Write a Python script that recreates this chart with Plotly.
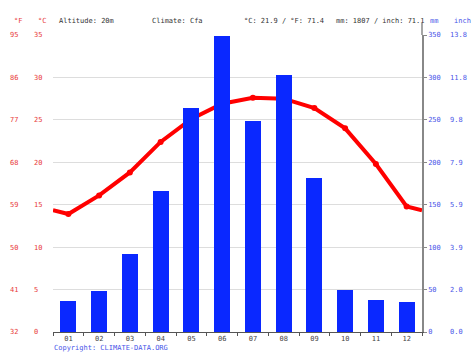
import plotly.graph_objects as go

months = ["01", "02", "03", "04", "05", "06", "07", "08", "09", "10", "11", "12"]
temp_c = [13.9, 16.1, 18.8, 22.4, 25.1, 26.9, 27.6, 27.5, 26.4, 24.0, 19.8, 14.8]
precip_mm = [37, 48, 92, 166, 264, 349, 249, 303, 182, 49, 38, 35]
c_ticks = [0, 5, 10, 15, 20, 25, 30, 35]
f_ticks = [32, 41, 50, 59, 68, 77, 86, 95]
mm_ticks = [0, 50, 100, 150, 200, 250, 300, 350]
inch_labels = ["0.0", "2.0", "3.9", "5.9", "7.9", "9.8", "11.8", "13.8"]
header = {
    "altitude": "Altitude: 20m",
    "climate": "Climate: Cfa",
    "temp": "°C: 21.9 / °F: 71.4",
    "precip": "mm: 1807 / inch: 71.1",
}

W, H = 474, 355
RED = "rgb(232,58,58)"
BLUE = "rgb(72,86,232)"
FONT = "DejaVu Sans Mono"

xpos = list(range(1, 13))
wrap = (temp_c[0] + temp_c[-1]) / 2

fig = go.Figure()
fig.add_trace(go.Bar(x=xpos, y=precip_mm, width=0.52, marker=dict(color="#0a28ff", line=dict(width=0)),
                     yaxis="y3", hoverinfo="skip"))
fig.add_trace(go.Scatter(x=[0.5] + xpos + [12.5], y=[wrap] + temp_c + [wrap], mode="lines",
                         line=dict(color="#ff0000", width=4), yaxis="y", hoverinfo="skip"))
fig.add_trace(go.Scatter(x=xpos, y=temp_c, mode="markers",
                         marker=dict(color="#ff0000", size=6), yaxis="y", hoverinfo="skip"))

y0 = 1 - 332 / H
y1 = 1 - 35 / H
tickfont_red = dict(family=FONT, size=7, color=RED)
tickfont_blue = dict(family=FONT, size=7, color=BLUE)

fig.update_layout(
    template="none",
    width=W, height=H, margin=dict(l=0, r=0, t=0, b=0, pad=0, autoexpand=False),
    paper_bgcolor="white", plot_bgcolor="white", showlegend=False, bargap=0,
    xaxis=dict(domain=[53 / W, 422 / W], range=[0.5, 12.5], tickvals=xpos, ticktext=months,
               ticks="", showgrid=False, zeroline=False, showline=True, linecolor="#555", linewidth=1,
               automargin=False, tickfont=dict(family=FONT, size=7, color="#444"),
               minor=dict(ticks="outside", tick0=0.5, dtick=1, ticklen=3, tickcolor="#555", showgrid=False)),
    yaxis=dict(domain=[y0, y1], range=[0, 35], tickvals=c_ticks, anchor="free", position=33 / W,
               side="right", showgrid=True, gridcolor="#dddddd", gridwidth=1, zeroline=False, ticks="",
               automargin=False, tickfont=tickfont_red, showline=False),
    yaxis2=dict(range=[32, 95], tickvals=f_ticks, overlaying="y", anchor="free", position=9 / W,
                side="right", showgrid=False, zeroline=False, ticks="", automargin=False,
                tickfont=tickfont_red),
    yaxis3=dict(range=[0, 350], tickvals=mm_ticks, overlaying="y", anchor="x", side="right",
                showgrid=False, zeroline=False, showline=True, linecolor="#888", linewidth=1.5,
                ticks="outside", ticklen=3, tickcolor="#888", automargin=False, tickfont=tickfont_blue),
    yaxis4=dict(range=[0, 350 / 25.4], tickvals=[m / 25.4 for m in mm_ticks], ticktext=inch_labels,
                overlaying="y", anchor="free", position=449 / W, side="right", showgrid=False,
                zeroline=False, ticks="", automargin=False, tickfont=tickfont_blue),
)
# invisible traces to activate y2 and y4
fig.add_trace(go.Scatter(x=[None], y=[None], yaxis="y2", showlegend=False))
fig.add_trace(go.Scatter(x=[None], y=[None], yaxis="y4", showlegend=False))

hy = 1 - 21 / H
def ann(x, text, color="#333"):
    fig.add_annotation(x=x / W, y=hy, xref="paper", yref="paper", text=text, showarrow=False,
                       xanchor="left", yanchor="middle", font=dict(family=FONT, size=7, color=color))

ann(12, "°F", RED)
ann(36, "°C", RED)
ann(57, header["altitude"])
ann(150, header["climate"])
ann(242, header["temp"])
ann(334, header["precip"])
ann(428, "mm", BLUE)
ann(452, "inch", BLUE)
fig.add_annotation(x=52 / W, y=1 - 348 / H, xref="paper", yref="paper", text="Copyright: CLIMATE-DATA.ORG",
                   showarrow=False, xanchor="left", yanchor="middle", font=dict(family=FONT, size=7, color=BLUE))
fig.add_shape(type="line", xref="paper", yref="paper", x0=422 / W, x1=422 / W, y0=y1, y1=1 - 23 / H,
              line=dict(color="#888", width=1.5))

fig.write_html("out.html", config={"displayModeBar": False},
               post_script="document.body.style.margin='0';document.body.style.overflow='hidden';")
